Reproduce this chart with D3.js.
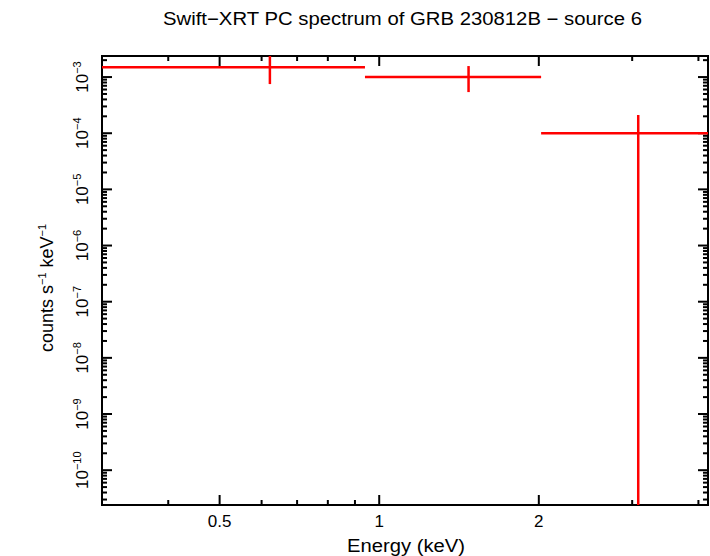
<!DOCTYPE html>
<html><head><meta charset="utf-8">
<script src="https://cdn.jsdelivr.net/npm/d3@7"></script>
<style>body{margin:0;background:#fff}text{font-family:"Liberation Sans",Arial,sans-serif}</style>
</head><body>
<script>
// bins: energy lo/hi (keV), rate and errors (counts/s/keV)
const binLo = [0.3, 0.94, 2.02];
const binHi = [0.94, 2.02, 4.17];
const binMid = [0.622, 1.474, 3.08];
const rate = [1.5e-3, 1.0e-3, 1.0e-4];
const rateHi = [2.4e-3, 1.57e-3, 2.1e-4];
const rateLo = [7.5e-4, 5.4e-4, 1e-12];
const xTicks = [0.5, 1, 2];
const yExps = [-3, -4, -5, -6, -7, -8, -9, -10];

const W = 710, H = 556, L = 102, R = 708, T = 56, B = 505;
const svg = d3.select('body').append('svg').attr('width', W).attr('height', H);
const x = d3.scaleLog().domain([0.3, 4.17]).range([L, R]);
const y = d3.scaleLog().domain([10 ** -10.62, 10 ** -2.625]).range([B, T]);

const g = svg.append('g');
// minor/major ticks inside on all sides
const xt = [];
for (let v = 0.3; v <= 4.2; v += (v < 0.999 ? 0.1 : 1)) xt.push(+v.toFixed(2));
xt.forEach(v => {
  const big = xTicks.includes(v);
  const len = big ? 10 : 5;
  g.append('line').attr('x1', x(v)).attr('x2', x(v)).attr('y1', B).attr('y2', B - len);
  g.append('line').attr('x1', x(v)).attr('x2', x(v)).attr('y1', T).attr('y2', T + len);
});
for (let e = -11; e <= -3; e++) {
  for (let m = 1; m < 10; m++) {
    const v = m * 10 ** e;
    if (v < y.domain()[0] || v > y.domain()[1]) continue;
    const len = m === 1 ? 10 : 5;
    g.append('line').attr('x1', L).attr('x2', L + len).attr('y1', y(v)).attr('y2', y(v));
    g.append('line').attr('x1', R).attr('x2', R - len).attr('y1', y(v)).attr('y2', y(v));
  }
}
g.selectAll('line').attr('stroke', '#000').attr('stroke-width', 2);
svg.append('rect').attr('x', L).attr('y', T).attr('width', R - L).attr('height', B - T)
  .attr('fill', 'none').attr('stroke', '#000').attr('stroke-width', 2);

// x tick labels
svg.selectAll('.xl').data(xTicks).enter().append('text')
  .attr('x', d => x(d)).attr('y', 527).attr('text-anchor', 'middle')
  .attr('font-size', 17).text(d => d);

// y tick labels (rotated)
yExps.forEach(e => {
  const t = svg.append('text')
    .attr('transform', `translate(88,${y(10 ** e)}) rotate(-90)`)
    .attr('text-anchor', 'middle').attr('font-size', 17);
  t.append('tspan').text('10');
  t.append('tspan').attr('dy', -7).attr('font-size', 11).text('\u2212' + (-e));
});

// data
const clip = svg.append('clipPath').attr('id', 'c').append('rect')
  .attr('x', L).attr('y', T).attr('width', R - L).attr('height', B - T);
const dg = svg.append('g').attr('clip-path', 'url(#c)').attr('stroke', 'red').attr('stroke-width', 2.5);
rate.forEach((r, i) => {
  dg.append('line').attr('x1', x(binLo[i])).attr('x2', x(binHi[i])).attr('y1', y(r)).attr('y2', y(r));
  dg.append('line').attr('x1', x(binMid[i])).attr('x2', x(binMid[i])).attr('y1', y(rateHi[i])).attr('y2', y(rateLo[i]));
});

// titles
svg.append('text').attr('x', 163).attr('y', 25).attr('font-size', 18)
  .attr('textLength', 479).attr('lengthAdjust', 'spacingAndGlyphs')
  .text('Swift\u2212XRT PC spectrum of GRB 230812B \u2212 source 6');
svg.append('text').attr('x', 347).attr('y', 552).attr('font-size', 18)
  .attr('textLength', 118).attr('lengthAdjust', 'spacingAndGlyphs')
  .text('Energy (keV)');
const yl = svg.append('text').attr('transform', 'translate(53,352) rotate(-90)')
  .attr('font-size', 18);
yl.append('tspan').text('counts s');
yl.append('tspan').attr('dy', -7).attr('font-size', 11).text('\u22121');
yl.append('tspan').attr('dy', 7).text(' keV');
yl.append('tspan').attr('dy', -7).attr('font-size', 11).text('\u22121');
</script>
</body></html>
